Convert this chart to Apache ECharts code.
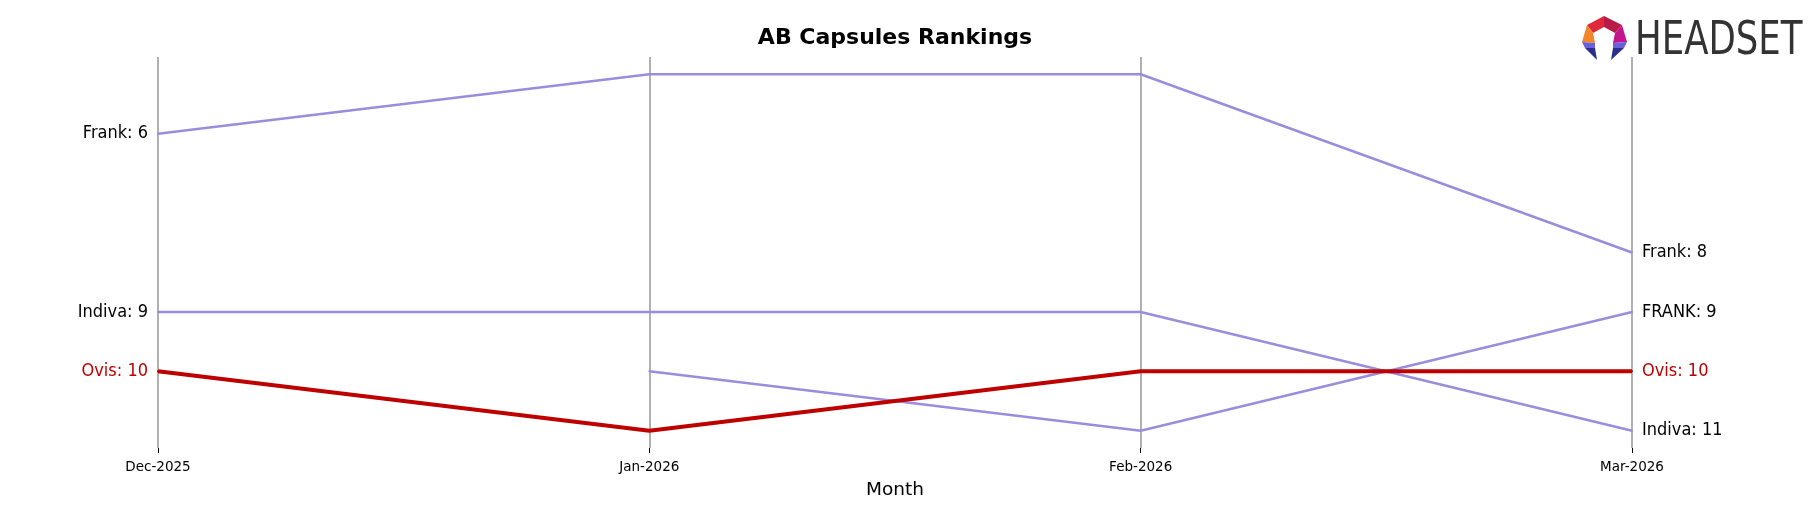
<!DOCTYPE html>
<html>
<head>
<meta charset="utf-8">
<script src="https://cdn.jsdelivr.net/npm/echarts@6/dist/echarts.min.js"></script>
<style>html,body{margin:0;padding:0;background:#fff;}#c{width:1818px;height:507px;}</style>
</head>
<body>
<div id="c"></div>
<script>
const months = ['Dec-2025', 'Jan-2026', 'Feb-2026', 'Mar-2026'];
const frank = [6, 5, 5, 8];
const indiva = [9, 9, 9, 11];
const frankCaps = [null, 10, 11, 9];
const ovis = [10, 11, 10, 10];
const seriesNames = ['Frank', 'Indiva', 'FRANK', 'Ovis'];
const titleText = 'AB Capsules Rankings';
const xName = 'Month';

const PURPLE = '#9b8ddb';
const RED = '#bd0000';
const FONT = 'DejaVu Sans';
const CFONT = '"DejaVu Sans Condensed", "DejaVu Sans"';

function buildData(name, vals, color) {
  const last = vals.length - 1;
  return vals.map((v, i) => {
    if (v === null) return null;
    const item = { value: v };
    if (i === 0 || i === last) {
      item.label = {
        show: true,
        position: i === 0 ? 'left' : 'right',
        distance: 9,
        formatter: name + ': ' + v,
        color: color === RED ? RED : '#000',
        fontFamily: CFONT,
        fontSize: 18
      };
    }
    return item;
  });
}

function lineSeries(name, vals, color, width, z) {
  return {
    name: name,
    type: 'line',
    data: buildData(name, vals, color),
    connectNulls: false,
    symbol: 'circle',
    symbolSize: 2,
    itemStyle: { color: color },
    lineStyle: { color: color, width: width },
    z: z,
    animation: false
  };
}

const chart = echarts.init(document.getElementById('c'), null, { renderer: 'canvas' });
chart.setOption({
  backgroundColor: '#fff',
  animation: false,
  title: {
    text: titleText,
    left: 890,
    top: 22,
    textAlign: 'center',
    textStyle: { fontFamily: FONT, fontWeight: 'bold', fontSize: 22, color: '#000' }
  },
  grid: { left: 158, right: 186, top: 57, bottom: 59, containLabel: false },
  xAxis: {
    type: 'category',
    data: months,
    boundaryGap: false,
    name: xName,
    nameLocation: 'middle',
    nameGap: 33,
    nameTextStyle: { fontFamily: FONT, fontSize: 18.5, color: '#000' },
    axisLine: { show: false },
    axisTick: { show: true, length: 5, lineStyle: { color: '#000', width: 1 } },
    axisLabel: { fontFamily: FONT, fontSize: 13.5, color: '#000', margin: 12 },
    splitLine: { show: true, lineStyle: { color: '#b0b0b0', width: 2 } }
  },
  yAxis: {
    type: 'value',
    inverse: true,
    min: 4.71,
    max: 11.29,
    show: false,
    splitLine: { show: false }
  },
  series: [
    lineSeries(seriesNames[0], frank, PURPLE, 2.5, 2),
    lineSeries(seriesNames[1], indiva, PURPLE, 2.5, 2),
    lineSeries(seriesNames[2], frankCaps, PURPLE, 2.5, 2),
    lineSeries(seriesNames[3], ovis, RED, 4, 3)
  ],
  graphic: [
    { type: 'polygon', shape: { points: [[1587,25],[1604,16],[1604,27],[1593,33]] }, style: { fill: '#e0283a' } },
    { type: 'polygon', shape: { points: [[1604,16],[1622,25],[1615,33],[1604,27]] }, style: { fill: '#b71c48' } },
    { type: 'polygon', shape: { points: [[1587,25],[1593,33],[1595,43],[1582,42]] }, style: { fill: '#f3862a' } },
    { type: 'polygon', shape: { points: [[1622,25],[1627,42],[1613,43],[1615,33]] }, style: { fill: '#c2168c' } },
    { type: 'polygon', shape: { points: [[1582,42],[1595,43],[1595,48],[1585,48]] }, style: { fill: '#6b60dc' } },
    { type: 'polygon', shape: { points: [[1585,48],[1595,48],[1597,60]] }, style: { fill: '#2b2f8c' } },
    { type: 'polygon', shape: { points: [[1613,43],[1627,42],[1624,48],[1613,48]] }, style: { fill: '#6b60dc' } },
    { type: 'polygon', shape: { points: [[1613,48],[1624,48],[1611,60]] }, style: { fill: '#2b2f8c' } },
    {
      type: 'text', x: 1635, y: 18, scaleX: 0.84, scaleY: 1,
      style: { text: 'HEADSET', x: 0, y: 0, font: '47px "DejaVu Sans Condensed", "DejaVu Sans"', fill: '#333333', textVerticalAlign: 'top', verticalAlign: 'top' }
    }
  ]
});
</script>
</body>
</html>
